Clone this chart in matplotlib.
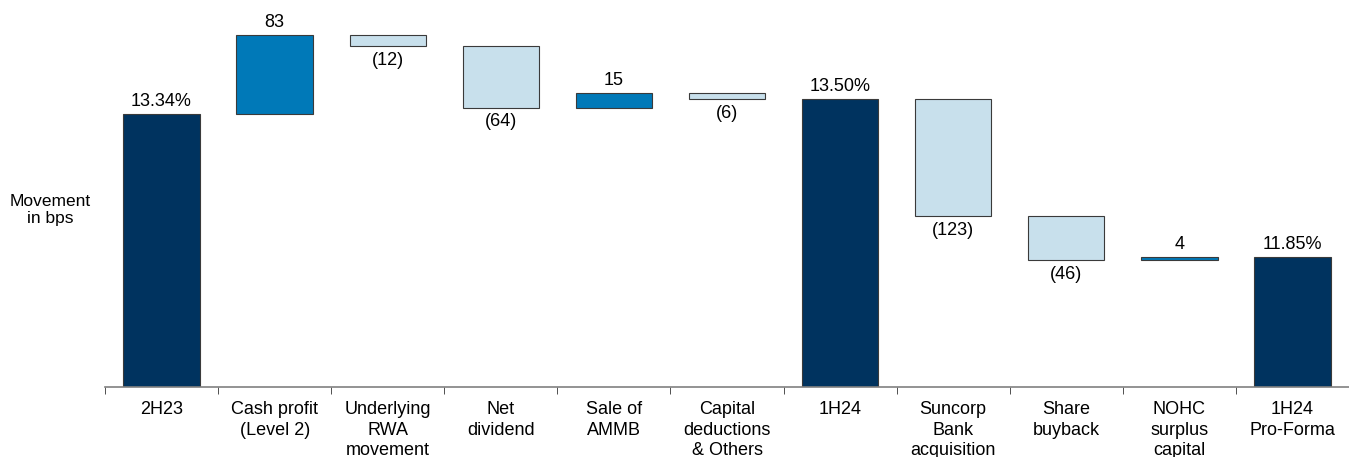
import numpy as np
import matplotlib.pyplot as plt

plt.rcParams['font.family'] = ['Liberation Sans', 'DejaVu Sans']

# data (bps)
categories = ['2H23', 'Cash profit\n(Level 2)', 'Underlying\nRWA\nmovement', 'Net\ndividend',
              'Sale of\nAMMB', 'Capital\ndeductions\n& Others', '1H24', 'Suncorp\nBank\nacquisition',
              'Share\nbuyback', 'NOHC\nsurplus\ncapital', '1H24\nPro-Forma']
values = [1334, 83, -12, -64, 15, -6, 1350, -123, -46, 4, 1185]
is_total = [True, False, False, False, False, False, True, False, False, False, True]
total_labels = {0: '13.34%', 6: '13.50%', 10: '11.85%'}

DARK = '#00335F'
MID = '#0079B8'
LIGHT = '#C8E0EC'
EDGE = '#3a3a3a'
FS = 13

fig = plt.figure(figsize=(13.49, 4.57), dpi=100)
ax = fig.add_axes([105 / 1349, 1 - 387 / 457, (1349 - 105) / 1349, 387 / 457])

ymin, ymax = 1048.4, 1453.6
w = 0.675
x = np.arange(len(values))
running = 0
for i, v in enumerate(values):
    if is_total[i]:
        ax.bar(i, v - ymin, bottom=ymin, width=w, color=DARK, edgecolor=EDGE, linewidth=0.8)
        ax.text(i, v + 4, total_labels[i], ha='center', va='bottom', fontsize=FS)
        running = v
    else:
        lo, hi = (running, running + v) if v > 0 else (running + v, running)
        ax.bar(i, hi - lo, bottom=lo, width=w, color=MID if v > 0 else LIGHT,
               edgecolor=EDGE, linewidth=0.8)
        if v > 0:
            ax.text(i, hi + 4, f'{v}', ha='center', va='bottom', fontsize=FS)
        else:
            ax.text(i, lo - 6, f'({-v})', ha='center', va='top', fontsize=FS)
        running += v

ax.set_xlim(-0.5, (1349 - 105) / 114.0 - 0.5)
ax.set_ylim(ymin, ymax)
for s in ['top', 'right', 'left']:
    ax.spines[s].set_visible(False)
ax.spines['bottom'].set_color('#808080')
ax.spines['bottom'].set_linewidth(1.2)
ax.set_yticks([])
ax.set_xticks(x)
ax.set_xticklabels(categories, fontsize=FS, linespacing=1.28, va='top')
ax.tick_params(axis='x', which='major', length=0, pad=10)
ax.set_xticks(np.arange(len(values) + 1) - 0.5, minor=True)
ax.tick_params(axis='x', which='minor', length=5, direction='out', color='#333333')

fig.text(50 / 1349, 1 - 210 / 457, 'Movement\nin bps', ha='center', va='center',
         fontsize=12.5, linespacing=1.15)

fig.savefig('out.png', dpi=100)
